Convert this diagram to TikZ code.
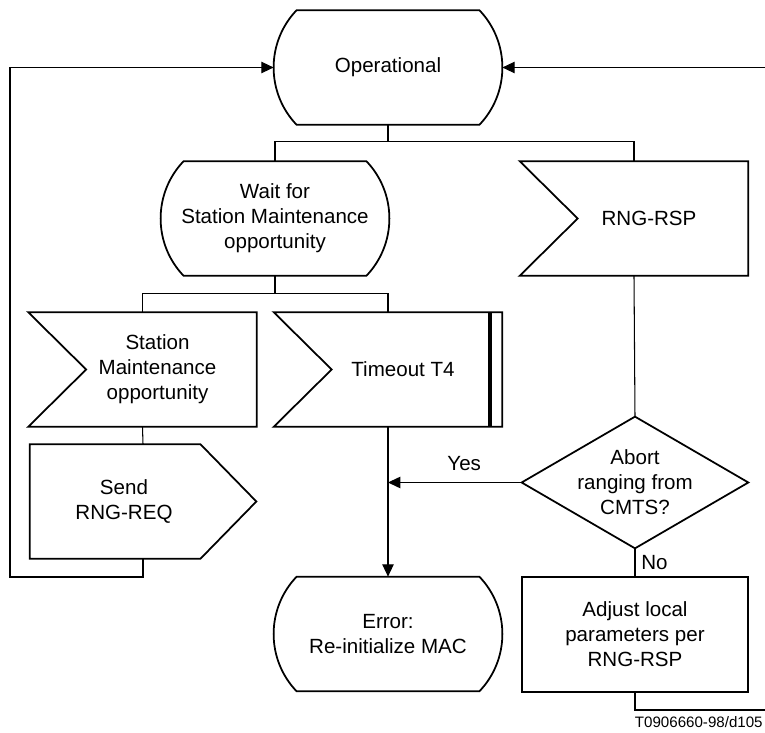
\documentclass[tikz,border=0pt]{standalone}
\usepackage{fontspec}
\setmainfont{Liberation Sans}
\usetikzlibrary{arrows.meta}
\newlength{\pxu}
\setlength{\pxu}{0.02cm}

\begin{document}
\begin{tikzpicture} [
    x=\pxu, y=-\pxu,
    shape_line/.style={draw, line width=1pt},
    base_block/.style={rectangle, inner sep=0pt, align=center, font=\fontsize{11.7}{14.2}\selectfont},
    state_block/.style={base_block, minimum width=228\pxu, minimum height=114\pxu,
        append after command={\pgfextra{\draw[shape_line]
            ([xshift=23\pxu]\tikzlastnode.north west) -- ([xshift=-23\pxu]\tikzlastnode.north east)
            .. controls ([xshift=7.7\pxu, yshift=-32\pxu]\tikzlastnode.north east) and ([xshift=7.7\pxu, yshift=32\pxu]\tikzlastnode.south east) .. ([xshift=-23\pxu]\tikzlastnode.south east)
            -- ([xshift=23\pxu]\tikzlastnode.south west)
            .. controls ([xshift=-7.7\pxu, yshift=32\pxu]\tikzlastnode.south west) and ([xshift=-7.7\pxu, yshift=-32\pxu]\tikzlastnode.north west) .. cycle;}}},
    input_block/.style={base_block, minimum width=198\pxu, minimum height=114\pxu,
        append after command={\pgfextra{\draw[shape_line]
            ([xshift=-30\pxu]\tikzlastnode.north west) -- (\tikzlastnode.north east) -- (\tikzlastnode.south east)
            -- ([xshift=-30\pxu]\tikzlastnode.south west) -- ([xshift=28\pxu]\tikzlastnode.west) -- cycle;}}},
    timer_block/.style={input_block,
        append after command={\pgfextra{\draw[line width=2.2pt]
            ([xshift=-12\pxu]\tikzlastnode.north east) -- ([xshift=-12\pxu]\tikzlastnode.south east);}}},
    output_block/.style={base_block, minimum width=188\pxu, minimum height=114\pxu,
        append after command={\pgfextra{\draw[shape_line]
            (\tikzlastnode.north west) -- ([xshift=-18\pxu]\tikzlastnode.north east) -- ([xshift=38\pxu]\tikzlastnode.east)
            -- ([xshift=-18\pxu]\tikzlastnode.south east) -- (\tikzlastnode.south west) -- cycle;}}},
    decision_block/.style={base_block, minimum width=226\pxu, minimum height=131\pxu,
        append after command={\pgfextra{\draw[shape_line]
            (\tikzlastnode.north) -- (\tikzlastnode.east) -- (\tikzlastnode.south) -- (\tikzlastnode.west) -- cycle;}}},
    task_block/.style={base_block, shape_line, minimum width=226\pxu, minimum height=115\pxu},
    plain_line/.style={draw, line width=0.6pt},
    line/.style={plain_line, -{Triangle[length=7pt, width=6.5pt]}},
    anno/.style={font=\fontsize{11.7}{14.2}\selectfont},
    tag/.style={font=\fontsize{8.6}{10}\selectfont, inner sep=0pt}
]
    \useasboundingbox (0,0) rectangle (765,733);

    % Nodes
    \node[state_block] (op) at (388,67.5) {Operational};
    \node[state_block] (wait) at (275,218.5) {Wait for\\Station Maintenance\\opportunity};
    \node[input_block] (rsp) at (649,218.5) {RNG-RSP};
    \node[input_block] (smo) at (157.5,369.5) {Station\\Maintenance\\opportunity};
    \node[timer_block] (t4) at (403,369.5) {Timeout T4};
    \node[output_block] (req) at (124,501.5) {Send\\RNG-REQ};
    \node[decision_block] (abort) at (635,482.5) {Abort\\ranging from\\CMTS?};
    \node[state_block] (err) at (388,634) {Error:\\Re-initialize MAC};
    \node[task_block] (adj) at (635,634.5) {Adjust local\\parameters per\\RNG-RSP};
    \node[tag, anchor=east] (fig_id) at (763,722) {T0906660-98/d105};

    \coordinate (left_back) at (10,577);
    \coordinate (right_back) at (768,710);

    % Arrows
    \path [plain_line] (op.south) -- ++(0,17) -| (wait.north);
    \path [plain_line] (op.south) -- ++(0,17) -| ([xshift=-15\pxu]rsp.north);
    \path [plain_line] (wait.south) -- ++(0,18) -| ([xshift=-15\pxu]smo.north);
    \path [plain_line] (wait.south) -- ++(0,18) -| ([xshift=-15\pxu]t4.north);
    \path [plain_line] ([xshift=-15\pxu]smo.south) -- ([xshift=19\pxu]req.north);
    \path [line] ([xshift=19\pxu]req.south) |- (left_back) |- (op.west);
    \path [line] ([xshift=-15\pxu]t4.south) -- (err.north);
    \path [plain_line] ([xshift=-15\pxu]rsp.south) -- (abort.north);
    \path [line] (abort.west) -- node[anno, above=3pt, pos=0.43] {Yes} (abort.west -| err.north);
    \path [plain_line] (abort.south) -- node[anno, right] {No} (adj.north);
    \path [line] (adj.south) |- (right_back) |- (op.east);

\end{tikzpicture}
\end{document}
